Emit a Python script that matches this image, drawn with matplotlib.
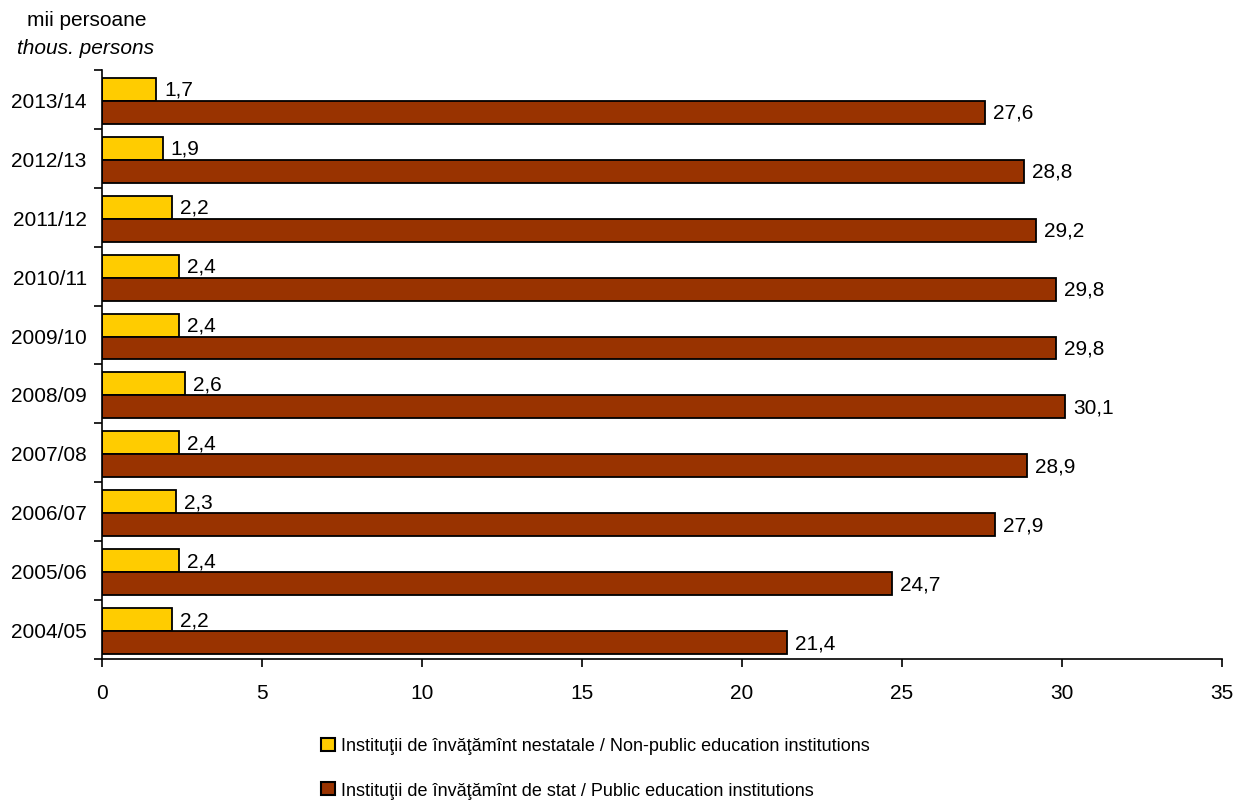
import matplotlib
matplotlib.use("Agg")
import matplotlib.pyplot as plt
import numpy as np
from matplotlib.patches import Patch

plt.rcParams['font.family'] = ['Liberation Sans', 'DejaVu Sans']

years = ["2004/05", "2005/06", "2006/07", "2007/08", "2008/09",
         "2009/10", "2010/11", "2011/12", "2012/13", "2013/14"]
nonpublic = [2.2, 2.4, 2.3, 2.4, 2.6, 2.4, 2.4, 2.2, 1.9, 1.7]
public = [21.4, 24.7, 27.9, 28.9, 30.1, 29.8, 29.8, 29.2, 28.8, 27.6]
x_ticks = [0, 5, 10, 15, 20, 25, 30, 35]
label_np = "Instituţii de învăţămînt nestatale / Non-public education institutions"
label_p = "Instituţii de învăţămînt de stat / Public education institutions"

c_yellow = "#FFCC00"
c_brown = "#993300"

fig = plt.figure(figsize=(12.42, 8.03), dpi=100)
ax = fig.add_axes([102/1242, 1-660/803, 1120/1242, (660-71)/803])

y = np.arange(len(years))
h = 0.39
off = -0.025
ax.barh(y + off + h/2, nonpublic, height=h, color=c_yellow, edgecolor="black", linewidth=1.3)
ax.barh(y + off - h/2, public, height=h, color=c_brown, edgecolor="black", linewidth=1.3)

fs = 15
for yi, v in zip(y, nonpublic):
    ax.text(v + 0.25, yi + off + h/2, f"{v:.1f}".replace(".", ","), va="center", ha="left", fontsize=fs)
for yi, v in zip(y, public):
    ax.text(v + 0.25, yi + off - h/2, f"{v:.1f}".replace(".", ","), va="center", ha="left", fontsize=fs)

ax.set_xlim(0, 35)
ax.set_ylim(-0.5, len(years) - 0.5)
ax.set_xticks(x_ticks)
ax.set_xticklabels([str(t) for t in x_ticks], fontsize=fs)
ax.set_yticks(y)
ax.set_yticklabels(years, fontsize=fs)
ax.set_yticks(np.arange(len(years) + 1) - 0.5, minor=True)
ax.tick_params(axis="y", which="major", length=0, pad=11)
ax.tick_params(axis="y", which="minor", length=6, width=1.2, direction="out")
ax.tick_params(axis="x", which="major", length=6, width=1.2, direction="out", pad=11)

for s in ["top", "right"]:
    ax.spines[s].set_visible(False)
for s in ["left", "bottom"]:
    ax.spines[s].set_linewidth(1.2)

fig.text(87/1242, 1-20/803, "mii persoane", ha="center", va="center", fontsize=fs)
fig.text(86/1242, 1-49/803, "thous. persons", ha="center", va="center", fontsize=fs, style="italic")

handles = [Patch(facecolor=c_yellow, edgecolor="black", linewidth=1.5),
           Patch(facecolor=c_brown, edgecolor="black", linewidth=1.5)]
leg = fig.legend(handles, [label_np, label_p], loc="center left",
                 bbox_to_anchor=(312/1242, 1-769/803), frameon=False,
                 handlelength=0.75, handleheight=0.75, handletextpad=0.35,
                 labelspacing=1.5, borderpad=0,
                 prop={'family': ['Liberation Sans Narrow', 'Liberation Sans'], 'size': 13})

fig.savefig("out.png", dpi=100)
